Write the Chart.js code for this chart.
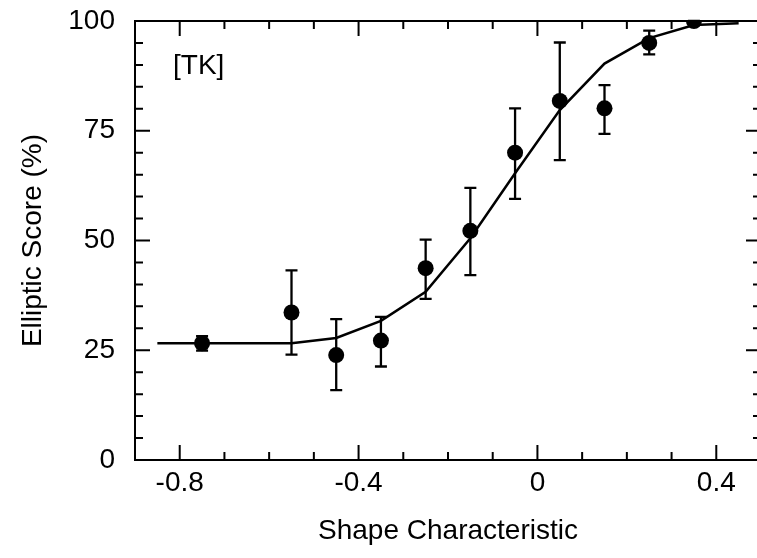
<!DOCTYPE html>
<html>
<head>
<meta charset="utf-8">
<script src="https://cdn.jsdelivr.net/npm/chart.js@4.4.1/dist/chart.umd.min.js"></script>
<style>
  html, body { margin: 0; padding: 0; background: #fff; overflow: hidden; }
  #wrap { width: 757px; height: 558px; overflow: hidden; }
  #chart { display: block; }
</style>
</head>
<body>
<div id="wrap"><canvas id="chart" width="763" height="558"></canvas></div>
<script>
// measured points
const shapeX = [-0.75, -0.55, -0.45, -0.35, -0.25, -0.15, -0.05, 0.05, 0.15, 0.25, 0.35];
const scoreY = [26.6, 33.6, 23.9, 27.2, 43.7, 52.2, 70.0, 81.8, 80.1, 95.0, 100];
const errLow = [24.9, 24.0, 15.9, 21.3, 36.7, 42.1, 59.5, 68.3, 74.3, 92.4, 100];
const errHigh = [28.2, 43.2, 32.1, 32.6, 50.2, 62.0, 80.1, 95.1, 85.4, 97.8, 100];

// fitted curve
const fitX = [-0.85, -0.75, -0.65, -0.55, -0.45, -0.35, -0.25, -0.15, -0.05, 0.05, 0.15, 0.25, 0.35, 0.45];
const fitY = [26.6, 26.6, 26.6, 26.6, 27.8, 31.7, 38.3, 50.5, 65.3, 79.7, 90.3, 96.1, 99.1, 99.5];

const xTicks = [-0.8, -0.4, 0, 0.4];
const yTicks = [0, 25, 50, 75, 100];

const FONT = "'Liberation Sans', Arial, sans-serif";

// frame, inward ticks on all four sides, error bars and the [TK] label
const framePlugin = {
    id: 'frame',
    afterDatasetsDraw(chart) {
        const ctx = chart.ctx;
        const xs = chart.scales.x;
        const ys = chart.scales.y;
        ctx.save();
        ctx.strokeStyle = '#000';
        ctx.lineWidth = 2.3;
        for (let i = 0; i < shapeX.length; i++) {
            const px = xs.getPixelForValue(shapeX[i]);
            const top = ys.getPixelForValue(errHigh[i]);
            const bot = ys.getPixelForValue(errLow[i]);
            ctx.beginPath();
            ctx.moveTo(px, top);
            ctx.lineTo(px, bot);
            ctx.moveTo(px - 6, top);
            ctx.lineTo(px + 6, top);
            ctx.moveTo(px - 6, bot);
            ctx.lineTo(px + 6, bot);
            ctx.stroke();
        }
        ctx.restore();
    },
    afterDraw(chart) {
        const ctx = chart.ctx;
        const {left, right, top, bottom} = chart.chartArea;
        const xs = chart.scales.x;
        const ys = chart.scales.y;
        ctx.save();
        ctx.strokeStyle = '#000';
        ctx.lineWidth = 2;
        ctx.strokeRect(left, top, right - left, bottom - top);

        ctx.beginPath();
        for (let k = -9; k <= 5; k++) {
            const v = k / 10;
            const px = xs.getPixelForValue(v);
            const len = xTicks.some(t => Math.abs(t - v) < 1e-9) ? 15 : 8;
            ctx.moveTo(px, bottom);
            ctx.lineTo(px, bottom - len);
            ctx.moveTo(px, top);
            ctx.lineTo(px, top + len);
        }
        for (let v = 0; v <= 100; v += 5) {
            const py = ys.getPixelForValue(v);
            const len = v % 25 === 0 ? 15 : 8;
            ctx.moveTo(left, py);
            ctx.lineTo(left + len, py);
            ctx.moveTo(right, py);
            ctx.lineTo(right - len, py);
        }
        ctx.stroke();

        ctx.fillStyle = '#000';
        ctx.font = '28px ' + FONT;
        ctx.textAlign = 'left';
        ctx.textBaseline = 'middle';
        ctx.fillText('[TK]', left + 38, top + 45);
        ctx.restore();
    }
};

new Chart(document.getElementById('chart'), {
    type: 'scatter',
    data: {
        datasets: [
            {
                type: 'line',
                data: fitX.map((x, i) => ({x: x, y: fitY[i]})),
                borderColor: '#000',
                borderWidth: 2.5,
                pointRadius: 0,
                tension: 0,
                fill: false
            },
            {
                data: shapeX.map((x, i) => ({x: x, y: scoreY[i]})),
                backgroundColor: '#000',
                borderWidth: 0,
                pointRadius: 8
            }
        ]
    },
    options: {
        responsive: false,
        animation: false,
        devicePixelRatio: 1,
        layout: { autoPadding: false, padding: { top: 21, right: 2, left: 0, bottom: 0 } },
        plugins: { legend: { display: false }, tooltip: { enabled: false } },
        scales: {
            x: {
                type: 'linear',
                min: -0.9,
                max: 0.5,
                afterBuildTicks: s => { s.ticks = xTicks.map(v => ({value: v})); },
                afterFit: s => {
                    s.height = 98;
                    s.paddingLeft = 0; s.paddingRight = 0;
                    s.paddingTop = 0; s.paddingBottom = 0;
                },
                grid: { display: false, drawTicks: false },
                border: { display: false },
                ticks: {
                    padding: 6,
                    color: '#000',
                    font: { family: FONT, size: 28 },
                    maxRotation: 0,
                    callback: v => String(v)
                },
                title: {
                    display: true,
                    text: 'Shape Characteristic',
                    color: '#000',
                    font: { family: FONT, size: 28 },
                    padding: { top: 0, bottom: 10 }
                }
            },
            y: {
                type: 'linear',
                min: 0,
                max: 100,
                afterBuildTicks: s => { s.ticks = yTicks.map(v => ({value: v})); },
                afterFit: s => {
                    s.width = 135;
                    s.paddingLeft = 0; s.paddingRight = 0;
                    s.paddingTop = 0; s.paddingBottom = 0;
                },
                grid: { display: false, drawTicks: false },
                border: { display: false },
                ticks: {
                    padding: 20,
                    color: '#000',
                    font: { family: FONT, size: 28 }
                },
                title: {
                    display: true,
                    text: 'Elliptic Score (%)',
                    color: '#000',
                    font: { family: FONT, size: 28 },
                    padding: { top: 16, bottom: 0 }
                }
            }
        }
    },
    plugins: [framePlugin]
});
</script>
</body>
</html>
